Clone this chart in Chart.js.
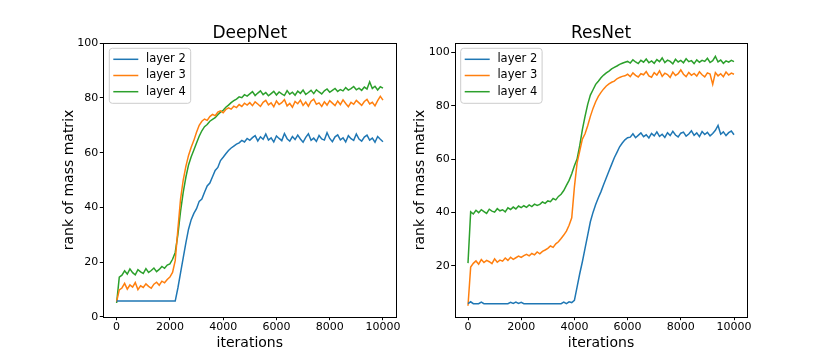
<!DOCTYPE html>
<html><head><meta charset="utf-8">
<script src="https://cdn.jsdelivr.net/npm/chart.js@4"></script>
<style>
html,body{margin:0;padding:0;background:#fff;width:830px;height:363px;overflow:hidden;}
canvas{position:absolute;top:0;}
</style></head><body>
<canvas id="c1" width="415" height="363" style="left:0px"></canvas>
<canvas id="c2" width="479" height="363" style="left:351px"></canvas>
<script>
const iterations = [0,100,200,300,400,500,600,700,800,900,
 1000,1100,1200,1300,1400,1500,1600,1700,1800,1900,
 2000,2100,2200,2300,2400,2500,2600,2700,2800,2900,
 3000,3100,3200,3300,3400,3500,3600,3700,3800,3900,
 4000,4100,4200,4300,4400,4500,4600,4700,4800,4900,
 5000,5100,5200,5300,5400,5500,5600,5700,5800,5900,
 6000,6100,6200,6300,6400,6500,6600,6700,6800,6900,
 7000,7100,7200,7300,7400,7500,7600,7700,7800,7900,
 8000,8100,8200,8300,8400,8500,8600,8700,8800,8900,
 9000,9100,9200,9300,9400,9500,9600,9700,9800,9900,
 10000];
const xTicks = [0,2000,4000,6000,8000,10000];
const deepTicksY = [0,20,40,60,80,100];
const resTicksY = [20,40,60,80,100];
const seriesNames = ['layer 2','layer 3','layer 4'];
const seriesColors = ['#1f77b4','#ff7f0e','#2ca02c'];
const panelTitles = ['DeepNet','ResNet'];
const xLabel = 'iterations';
const yLabel = 'rank of mass matrix';

const deepL2 = [5.7,5.7,5.7,5.7,5.7,5.7,5.7,5.7,5.7,5.7,
 5.7,5.7,5.7,5.7,5.7,5.7,5.7,5.7,5.7,5.7,
 5.7,5.7,5.7,10.5,16,21.5,27,32,35.5,37.8,
 39.5,42.2,43,45.5,47.8,48.9,51.2,53.5,54.6,57.1,
 58.3,59.6,60.8,61.7,62.4,63.1,63.6,64.5,63.9,65.2,
 64.5,65.5,66.2,64.3,65.8,64.9,66.8,64.6,65.4,63.9,
 66.1,65.2,64.4,67.0,65.1,64.2,65.9,64.8,66.4,65.0,
 63.8,65.6,66.9,64.5,65.3,64.1,66.3,65.0,64.6,67.3,
 65.2,64.0,65.8,66.5,64.7,65.4,63.9,66.2,65.1,64.5,
 66.8,65.0,64.2,65.7,66.4,64.6,65.3,63.8,65.9,64.9,
 64.0];
const deepL3 = [5.5,9.8,10.5,12.2,10.1,11.6,10.8,12.5,9.9,11.3,
 10.7,12.0,11.1,10.4,11.9,12.6,11.5,13.0,12.4,13.6,
 14.5,16.2,20.5,32,43,50,55,59,62,64.5,
 67.5,70,71.5,72.3,71.8,73.2,74.0,73.5,74.8,75.3,
 74.6,75.8,76.4,75.9,77.0,76.5,77.6,76.9,78.1,77.4,
 78.3,77.2,78.6,77.8,76.9,78.4,79.1,77.5,78.2,76.8,
 78.9,77.6,78.3,79.4,77.1,78.0,76.6,78.7,77.9,79.2,
 77.3,78.5,77.0,78.8,79.6,77.7,78.2,76.9,78.6,77.4,
 79.0,78.1,77.2,78.9,77.6,79.3,78.0,76.8,78.4,77.7,
 79.1,78.2,77.3,78.7,79.5,77.8,78.4,77.1,79.0,80.6,
 79.2];
const deepL4 = [5.0,14.5,15.2,16.8,15.6,17.5,16.1,15.3,17.2,16.4,
 15.8,17.6,16.2,16.9,17.8,16.5,17.3,18.4,17.7,18.9,
 19.3,21.0,23.5,30,38.5,45.5,51,55.5,58.5,61,
 63.5,66,68,69.5,70.3,71.5,72.2,72.8,73.9,74.8,
 75.5,76.6,77.4,78.3,79.0,79.6,80.4,80.1,81.2,80.7,
 81.5,82.3,80.9,81.8,82.6,81.2,82.0,80.8,81.6,82.4,
 81.1,82.2,81.5,80.9,82.7,81.4,82.1,81.0,82.5,81.7,
 82.9,81.3,82.0,82.8,81.6,83.0,82.2,81.5,82.6,83.3,
 82.1,82.8,83.5,82.4,83.1,82.6,83.8,82.9,83.4,84.2,
 83.0,83.6,82.8,84.0,83.3,85.9,83.5,84.3,82.9,84.1,
 83.6];

const resL2 = [5.8,6.5,5.8,5.8,5.8,6.4,5.8,5.8,5.8,5.8,
 5.8,5.8,5.8,5.8,5.8,5.8,6.3,5.9,6.4,5.9,
 6.3,5.8,5.8,5.8,5.8,5.8,5.8,5.8,5.8,5.8,
 5.8,5.8,5.8,5.8,5.8,5.8,6.4,5.8,6.5,6.2,
 7,12,17,21.5,26.5,31.5,36.5,40,43,45.5,
 47.8,50.5,53,55.5,58,60.5,62.5,64.6,66,67.2,
 68,68.2,69.5,68.0,68.9,69.8,68.4,69.1,67.9,69.6,
 68.7,70.2,68.5,69.3,68.1,69.9,68.8,70.4,69.0,68.3,
 69.7,70.1,68.6,69.4,70.6,68.9,69.8,68.4,70.3,69.2,
 70.0,68.7,69.6,70.8,72.6,69.3,70.2,68.8,69.9,70.5,
 69.1];
const resL3 = [5.0,19.5,20.9,21.8,20.6,22.3,21.2,22.0,21.5,20.8,
 22.6,21.3,22.1,21.7,22.9,22.0,23.2,22.4,23.0,23.6,
 23.1,23.8,24.3,23.7,24.6,24.1,25.2,24.5,25.4,25.9,
 26.5,27.4,26.9,28.2,29.0,30.2,31.5,33.0,35.2,38,
 49.5,58.5,63,67.5,69.5,72.5,76,79,81.5,83.5,
 85,86.3,87.4,88.2,88.8,89.2,90.1,90.6,91.0,91.2,
 91.8,90.9,92.3,91.4,90.8,92.0,91.6,92.8,91.2,90.7,
 92.4,91.5,93.1,91.0,92.2,91.7,90.6,92.6,91.3,92.0,
 93.4,91.8,90.9,92.5,91.4,92.1,91.1,92.7,91.6,90.8,
 92.3,91.9,88.0,92.4,91.2,92.0,90.9,92.6,91.5,92.2,
 91.8];
const resL4 = [21.0,40.2,39.4,40.8,39.9,41.0,40.3,39.6,41.2,40.5,
 40.1,41.4,40.6,41.0,40.2,41.7,41.1,42.0,41.3,42.4,
 41.8,42.5,41.9,42.8,42.2,43.1,42.6,43.0,43.9,43.4,
 44.3,44.0,45.2,44.7,46.0,46.8,48.2,50.1,52.0,54.5,
 57.5,60,65,71,76,80.5,84,86,88,89.2,
 90.5,91.5,92.3,93.0,93.8,94.4,94.9,95.5,95.9,96.3,
 96.6,96.0,97.2,96.4,95.8,97.0,96.3,97.5,96.1,96.8,
 95.9,97.3,96.5,97.9,96.2,97.1,96.6,95.7,97.4,96.4,
 97.0,96.1,97.6,96.5,96.9,95.8,97.2,96.3,97.0,96.6,
 97.8,96.2,96.9,98.5,96.4,97.1,95.9,96.8,96.3,97.0,
 96.5];

Chart.defaults.font.family = '"DejaVu Sans", sans-serif';
Chart.defaults.color = '#000';

const frameLegend = {
  id: 'frameLegend',
  afterDraw(chart) {
    const {ctx, chartArea: a} = chart;
    ctx.save();
    ctx.strokeStyle = '#000';
    ctx.lineWidth = 1;
    ctx.strokeRect(Math.round(a.left) + 0.5, Math.round(a.top) + 0.5,
      Math.round(a.right) - Math.round(a.left), Math.round(a.bottom) - Math.round(a.top));
    // legend
    const x0 = a.left + 6, y0 = a.top + 5, w = 81.4, h = 55, r = 3;
    ctx.beginPath();
    ctx.moveTo(x0 + r, y0);
    ctx.lineTo(x0 + w - r, y0); ctx.arcTo(x0 + w, y0, x0 + w, y0 + r, r);
    ctx.lineTo(x0 + w, y0 + h - r); ctx.arcTo(x0 + w, y0 + h, x0 + w - r, y0 + h, r);
    ctx.lineTo(x0 + r, y0 + h); ctx.arcTo(x0, y0 + h, x0, y0 + h - r, r);
    ctx.lineTo(x0, y0 + r); ctx.arcTo(x0, y0, x0 + r, y0, r);
    ctx.closePath();
    ctx.fillStyle = 'rgba(255,255,255,0.8)';
    ctx.fill();
    ctx.strokeStyle = '#cccccc';
    ctx.stroke();
    chart.data.datasets.forEach((ds, i) => {
      const y = a.top + 16 + i * 16.2;
      ctx.strokeStyle = ds.borderColor;
      ctx.lineWidth = 1.5;
      ctx.beginPath();
      ctx.moveTo(a.left + 10, y); ctx.lineTo(a.left + 35, y);
      ctx.stroke();
      ctx.fillStyle = '#000';
      ctx.font = '11.5px "DejaVu Sans"';
      ctx.textBaseline = 'middle';
      ctx.textAlign = 'left';
      ctx.fillText(ds.label, a.left + 42.7, y);
    });
    ctx.restore();
  }
};

function makeChart(id, title, series, yMin, yMax, yTicks, leftW, rightPad) {
  const tickFont = {size: 11};
  new Chart(document.getElementById(id), {
    type: 'line',
    data: {
      datasets: series.map((vals, i) => ({
        label: seriesNames[i],
        data: vals.map((v, k) => ({x: iterations[k], y: v})),
        borderColor: seriesColors[i],
        borderWidth: 1.5,
        pointRadius: 0,
        tension: 0,
        fill: false
      }))
    },
    options: {
      responsive: false, animation: false, devicePixelRatio: 1,
      layout: {padding: {left: 0, right: rightPad, top: 0, bottom: 0}},
      plugins: {
        legend: {display: false},
        tooltip: {enabled: false},
        title: {display: true, text: title, fullSize: false, color: '#000',
          font: {size: 17, weight: 'normal', lineHeight: 1.2},
          padding: {top: 22.9, bottom: 0}}
      },
      scales: {
        x: {
          type: 'linear', min: -500, max: 10500,
          afterBuildTicks: s => { s.ticks = xTicks.map(v => ({value: v})); },
          afterFit: s => { s.height = 46.3; },
          grid: {display: true, drawOnChartArea: false, drawTicks: true, tickLength: 3.5, color: '#000', lineWidth: 1},
          border: {display: false},
          ticks: {color: '#000', font: tickFont, padding: 0.7, autoSkip: false, maxRotation: 0, minRotation: 0, callback: v => String(v)},
          title: {display: true, text: xLabel, color: '#000', font: {size: 14, lineHeight: 1.2}, padding: {top: 0, bottom: 11.1}}
        },
        y: {
          type: 'linear', min: yMin, max: yMax,
          afterBuildTicks: s => { s.ticks = yTicks.map(v => ({value: v})); },
          afterFit: s => { s.width = leftW; },
          grid: {display: true, drawOnChartArea: false, drawTicks: true, tickLength: 3.5, color: '#000', lineWidth: 1},
          border: {display: false},
          ticks: {color: '#000', font: tickFont, padding: 1.5, autoSkip: false, callback: v => String(v)},
          title: {display: true, text: yLabel, color: '#000', font: {size: 14, lineHeight: 1.2}, padding: {top: 60.5, bottom: 0}}
        }
      }
    },
    plugins: [frameLegend]
  });
}

makeChart('c1', panelTitles[0], [deepL2, deepL3, deepL4], 0, 100, deepTicksY, 103.3, 18.7);
makeChart('c2', panelTitles[1], [resL2, resL3, resL4], 0.9, 103.4, resTicksY, 103.7, 82.7);
</script>
</body></html>
